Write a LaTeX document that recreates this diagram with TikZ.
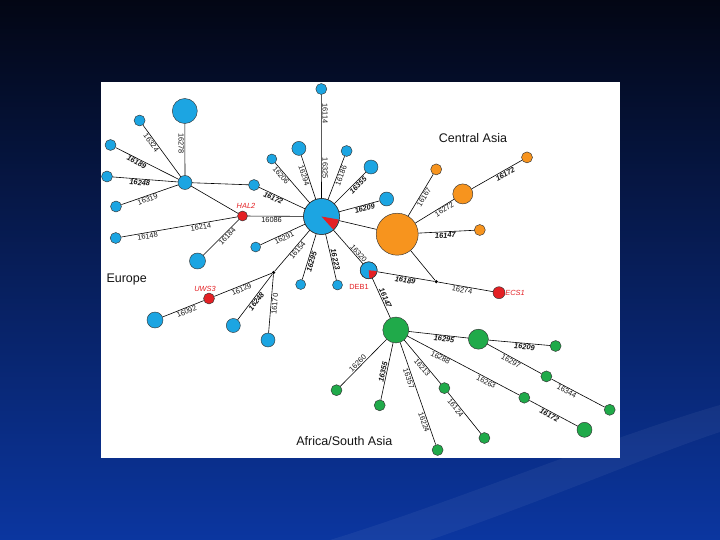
\documentclass[tikz,border=0pt]{standalone}
\usepackage{fontspec}
\setmainfont{Liberation Sans}
\usetikzlibrary{calc}
\definecolor{cblue}{RGB}{28,165,226}
\definecolor{corange}{RGB}{247,148,30}
\definecolor{cgreen}{RGB}{32,170,74}
\definecolor{cred}{RGB}{228,32,36}
\definecolor{bgtop}{RGB}{3,6,20}
\definecolor{bgmid}{RGB}{10,40,125}
\definecolor{bgbot}{RGB}{11,54,160}
\definecolor{ink}{RGB}{20,20,20}
\begin{document}
\begin{tikzpicture}[x=1pt,y=-1pt,
  nd/.style={circle,draw=black!80,line width=0.45pt,inner sep=0pt,minimum size=#1},
  bnode/.style={nd=#1,fill=cblue},
  onode/.style={nd=#1,fill=corange},
  gnode/.style={nd=#1,fill=cgreen},
  rnode/.style={nd=#1,fill=cred},
  jn/.style={circle,fill=black,inner sep=0pt,minimum size=3.5pt},
  ln/.style={draw=black,line width=0.6pt},
  lab/.style={font=\fontsize{7.4}{8}\selectfont,sloped,inner sep=0.8pt,text=ink},
  blab/.style={lab,font=\fontsize{7.4}{8}\selectfont\bfseries\itshape},
  nlab/.style={font=\fontsize{7.4}{8}\selectfont\itshape,text=cred,inner sep=0pt},
  reg/.style={font=\fontsize{12.5}{14}\selectfont,text=ink,inner sep=0pt}]
\useasboundingbox (0,0) rectangle (720,540);
\shade[top color=bgtop,middle color=bgmid,bottom color=bgbot] (0,0) rectangle (720,540);
\fill[white,opacity=0.05] (720,405) .. controls (600,440) and (460,500) .. (330,540) -- (430,540) .. controls (560,495) and (650,455) .. (720,432) -- cycle;
\fill[white] (101,82) rectangle (620,458);

% blue nodes
\node[bnode=36pt] (hub) at (321.5,216.5) {};
\node[bnode=11pt] (t114) at (321.3,89) {};
\node[bnode=25pt] (big278) at (184.8,111) {};
\node[bnode=14pt] (sub) at (185,182.5) {};
\node[bnode=11pt] (n324) at (139.6,120.5) {};
\node[bnode=11pt] (n189) at (110.5,145) {};
\node[bnode=11pt] (n248a) at (107,176.5) {};
\node[bnode=11pt] (n319) at (116,206.5) {};
\node[bnode=11pt] (n172) at (254,185) {};
\node[rnode=10pt] (hal2) at (242.5,216) {};
\node[bnode=11pt] (n148) at (115.7,238) {};
\node[bnode=16pt] (n184) at (197.5,261) {};
\node[bnode=10pt] (n291) at (255.7,247) {};
\node[jn] (jA) at (273.6,272.5) {};
\node[rnode=11pt] (uws3) at (209,298.5) {};
\node[bnode=16pt] (n092) at (155,320) {};
\node[bnode=14pt] (n248b) at (233.3,325.5) {};
\node[bnode=14pt] (n170) at (268,340) {};
\node[bnode=10pt] (n295b) at (300.7,284.5) {};
\node[bnode=10pt] (n223) at (337.5,285) {};
\node[bnode=17pt] (deb1) at (368.7,270.3) {};
\node[bnode=10pt] (n206) at (271.8,159) {};
\node[bnode=14pt] (n294) at (298.9,148.4) {};
\node[bnode=11pt] (n186) at (346.6,151) {};
\node[bnode=14pt] (n355b) at (371,167) {};
\node[bnode=14pt] (n209b) at (386.6,199) {};

% orange nodes
\node[onode=42pt] (obig) at (397.2,234.2) {};
\node[onode=11pt] (o167) at (436.2,169.4) {};
\node[onode=20pt] (omed) at (462.8,193.9) {};
\node[onode=11pt] (o172) at (527,157.4) {};
\node[onode=11pt] (o147) at (479.8,230) {};
\node[jn] (jB) at (436.2,281.7) {};
\node[rnode=12pt] (ecs1) at (499,292.7) {};

% green nodes
\node[gnode=26pt] (gbig) at (395.8,330) {};
\node[gnode=20pt] (gmed) at (478.4,339.2) {};
\node[gnode=11pt] (g209) at (555.6,346) {};
\node[gnode=11pt] (g297) at (546.4,376.4) {};
\node[gnode=11pt] (g344) at (609.7,409.8) {};
\node[gnode=11pt] (g263) at (524.3,397.7) {};
\node[gnode=15pt] (g172) at (584.5,429.8) {};
\node[gnode=11pt] (g213) at (444.4,388.1) {};
\node[gnode=11pt] (g124) at (484.4,438) {};
\node[gnode=11pt] (g224) at (437.6,450) {};
\node[gnode=11pt] (g355) at (379.7,405.3) {};
\node[gnode=11pt] (g260) at (336.5,390.2) {};

% pie slices
\fill[cred] (hub.center) -- ++(-10:17.5pt) arc[start angle=-10,end angle=-48,radius=17.5pt] -- cycle;
\draw[black!80,line width=0.45pt] (hub.center) circle[radius=18pt];
\fill[cred] (deb1.center) -- ++(-5:8.2pt) arc[start angle=-5,end angle=-85,radius=8.2pt] -- cycle;
\draw[black!80,line width=0.45pt] (deb1.center) circle[radius=8.5pt];

% edges - Europe
\draw[ln] (t114) -- node[lab,pos=.18,above]{16114} node[lab,pos=.71,above]{16325} (hub);
\draw[ln] (big278) -- node[lab,pos=.38,below]{16278} (sub);
\draw[ln] (n324) -- node[lab,pos=.3,below]{16324} (sub);
\draw[ln] (n189) -- node[blab,pos=.36,below]{16189} (sub);
\draw[ln] (n248a) -- node[blab,pos=.42,below]{16248} (sub);
\draw[ln] (n319) -- node[lab,pos=.44,below]{16319} (sub);
\draw[ln] (sub) -- (n172);
\draw[ln] (n172) -- node[blab,pos=.34,below]{16172} (hub);
\draw[ln] (sub) -- (hal2);
\draw[ln] (hal2) -- node[lab,pos=.43,below]{16086} (hub);
\draw[ln] (n148) -- node[lab,pos=.22,below]{16148} node[lab,pos=.68,below]{16214} (hal2);
\draw[ln] (n184) -- node[lab,pos=.6,below]{16184} (hal2);
\draw[ln] (n291) -- node[lab,pos=.5,below]{16291} (hub);
\draw[ln] (jA) -- node[lab,pos=.57,below]{16154} (hub);
\draw[ln] (uws3) -- node[lab,pos=.45,below]{16129} (jA);
\draw[ln] (n092) -- node[lab,pos=.55,below]{16092} (uws3);
\draw[ln] (n248b) -- node[blab,pos=.45,below]{16248} (jA);
\draw[ln] (n170) -- node[lab,pos=.5,below]{16170} (jA);
\draw[ln] (n295b) -- node[blab,pos=.42,below]{16295} (hub);
\draw[ln] (hub) -- node[blab,pos=.57,above]{16223} (n223);
\draw[ln] (hub) -- node[lab,pos=.76,above]{16320} (deb1);
\draw[ln] (n206) -- node[lab,pos=.25,below]{16206} (hub);
\draw[ln] (n294) -- node[lab,pos=.44,below]{16294} (hub);
\draw[ln] (n186) -- node[lab,pos=.42,below]{16186} (hub);
\draw[ln] (n355b) -- node[blab,pos=.33,below]{16355} (hub);
\draw[ln] (hub) -- node[blab,pos=.61,below]{16209} (n209b);

% edges - Central Asia
\draw[ln] (hub) -- (obig);
\draw[ln] (obig) -- node[lab,pos=.5,below]{16167} (o167);
\draw[ln] (obig) -- node[lab,pos=.7,below]{16272} (omed);
\draw[ln] (omed) -- node[blab,pos=.63,below]{16172} (o172);
\draw[ln] (obig) -- node[blab,pos=.48,below]{16147} (o147);
\draw[ln] (obig) -- (jB);
\draw[ln] (deb1) -- node[blab,pos=.5,below]{16189} (jB);
\draw[ln] (jB) -- node[lab,pos=.45,below]{16274} (ecs1);

% edges - Africa
\draw[ln] (deb1) -- node[blab,pos=.54,above]{16147} (gbig);
\draw[ln] (gbig) -- node[blab,pos=.6,below]{16295} (gmed);
\draw[ln] (gmed) -- node[blab,pos=.59,below]{16209} (g209);
\draw[ln] (gmed) -- node[lab,pos=.47,below]{16297} (g297);
\draw[ln] (g297) -- node[lab,pos=.32,below]{16344} (g344);
\draw[ln] (gbig) -- node[lab,pos=.31,below]{16288} node[lab,pos=.72,below]{16263} (g263);
\draw[ln] (g263) -- node[blab,pos=.45,below]{16172} (g172);
\draw[ln] (gbig) -- node[lab,pos=.57,below]{16213} (g213);
\draw[ln] (g213) -- node[lab,pos=.32,below]{16124} (g124);
\draw[ln] (gbig) -- node[lab,pos=.34,below]{16357} node[lab,pos=.77,below]{16224} (g224);
\draw[ln] (gbig) -- node[blab,pos=.53,above]{16355} (g355);
\draw[ln] (gbig) -- node[lab,pos=.57,above]{16260} (g260);

% node names
\node[nlab] (hal2l) at (246,206) {HAL2};
\node[nlab] (uws3l) at (205,289) {UWS3};
\node[nlab,font=\fontsize{7.4}{8}\selectfont] (deb1l) at (359,287) {DEB1};
\node[nlab] (ecs1l) at (515,292.5) {ECS1};

% regions
\node[reg] (eur) at (126.7,279) {Europe};
\node[reg] (cas) at (473,137.7) {Central Asia};
\node[reg] (afr) at (344.3,440.8) {Africa/South Asia};
\end{tikzpicture}
\end{document}
